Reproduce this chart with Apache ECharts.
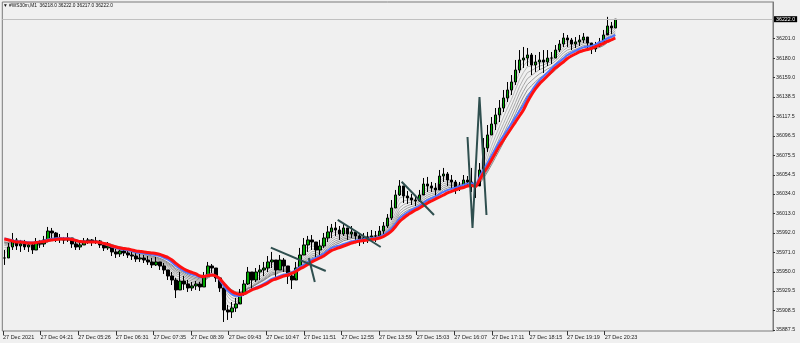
<!DOCTYPE html>
<html><head><meta charset="utf-8">
<script src="https://cdn.jsdelivr.net/npm/echarts@6/dist/echarts.min.js"></script>
<style>html,body{margin:0;padding:0;background:#f0f0f0}#c{width:800px;height:343px}</style>
</head><body><div id="c"></div>
<script>
const symbolTitle = '\u25BC #WS30m,M1  36218.0 36222.0 36217.0 36222.0';
const timeLabels = ['27 Dec 2021','27 Dec 04:21','27 Dec 05:26','27 Dec 06:31','27 Dec 07:35','27 Dec 08:39','27 Dec 09:43','27 Dec 10:47','27 Dec 11:51','27 Dec 12:55','27 Dec 13:59','27 Dec 15:03','27 Dec 16:07','27 Dec 17:11','27 Dec 18:15','27 Dec 19:19','27 Dec 20:23'];
const priceLabels = [36201.0,36180.0,36159.0,36138.5,36117.5,36096.5,36075.5,36054.5,36034.0,36013.0,35992.0,35971.0,35950.0,35929.5,35908.5,35887.5];
const lastPrice = 36222.0;

const hi = [
35973.6,35981.1,35991.9,35986.5,35984.4,35984.4,35982.2,35981.1,35986.5,35984.4,
35988.7,35998.4,35997.3,35993.0,35990.8,35987.6,35991.9,35986.5,35984.4,35982.2,
35986.5,35986.5,35985.4,35987.6,35984.4,35981.1,35982.2,35976.8,35974.7,35975.8,
35974.7,35973.6,35971.5,35970.4,35969.3,35968.2,35967.1,35965.0,35966.1,35960.7,
35959.6,35952.1,35949.9,35943.5,35949.9,35945.6,35941.3,35939.2,35940.2,35939.2,
35949.9,35960.7,35958.5,35952.1,35941.3,35925.2,35914.4,35917.6,35921.9,35931.6,
35941.3,35955.3,35949.9,35954.2,35957.5,35960.7,35967.1,35971.5,35960.7,35968.2,
35965.0,35954.2,35949.9,35960.7,35975.8,35986.5,35988.7,35989.7,35981.1,35984.4,
35991.9,35999.4,36001.6,36003.7,35999.4,36001.6,35997.3,35999.4,35995.1,35990.8,
35991.9,35993.0,35995.1,35994.0,35999.4,36003.7,36012.3,36027.4,36038.2,36048.9,
36040.3,36037.1,36033.9,36032.8,36038.2,36051.1,36052.2,36046.8,36045.7,36059.7,
36061.9,36057.5,36054.3,36048.9,36046.8,36054.3,36053.2,36061.9,36048.9,36067.2,
36094.1,36108.1,36116.7,36126.4,36135.0,36145.8,36154.4,36161.9,36178.1,36188.8,
36192.1,36191.0,36185.6,36183.5,36186.7,36188.8,36188.8,36186.7,36194.2,36199.6,
36207.1,36205.0,36201.8,36202.8,36205.0,36207.1,36201.8,36196.4,36197.5,36201.8,
36210.4,36224.5,36219.0,36222.0];
const lo = [
35957.5,35965.0,35973.6,35973.6,35971.5,35973.6,35971.5,35969.3,35973.6,35975.8,
35976.8,35984.4,35986.5,35982.2,35981.1,35980.1,35982.2,35975.8,35973.6,35973.6,
35979.0,35980.1,35977.9,35980.1,35975.8,35972.5,35973.6,35967.1,35965.0,35966.1,
35967.1,35965.0,35962.8,35960.7,35960.7,35959.6,35957.5,35954.2,35956.4,35952.1,
35947.8,35941.3,35935.9,35921.9,35930.6,35930.6,35928.4,35929.5,35930.6,35929.5,
35933.8,35945.6,35948.9,35939.2,35928.4,35896.1,35898.3,35900.4,35906.9,35917.6,
35924.1,35935.9,35930.6,35939.2,35941.3,35945.6,35949.9,35954.2,35943.5,35952.1,
35949.9,35937.0,35931.6,35943.5,35956.4,35968.2,35971.5,35973.6,35965.0,35968.2,
35975.8,35982.2,35986.5,35988.7,35984.4,35988.7,35984.4,35986.5,35982.2,35977.9,
35980.1,35981.1,35982.2,35982.2,35986.5,35989.7,35997.3,36005.9,36018.8,36031.7,
36024.2,36023.1,36022.0,36021.0,36025.3,36033.9,36036.0,36036.0,36031.7,36044.6,
36046.8,36042.5,36040.3,36033.9,36037.1,36043.6,36042.5,36036.0,36029.6,36046.8,
36065.1,36079.1,36097.4,36102.7,36111.3,36122.1,36132.9,36140.4,36151.2,36164.1,
36169.5,36171.6,36161.9,36165.2,36167.3,36164.1,36171.6,36173.8,36180.2,36186.7,
36192.1,36192.1,36188.8,36191.0,36193.1,36196.4,36191.0,36184.5,36186.7,36192.1,
36197.5,36207.1,36206.1,36212.5];
const cl = [
35965.0,35976.8,35984.4,35977.9,35980.1,35976.8,35979.0,35973.6,35982.2,35980.1,
35984.4,35994.0,35991.9,35986.5,35985.4,35984.4,35986.5,35980.1,35976.8,35979.0,
35983.3,35984.4,35982.2,35983.3,35979.0,35975.8,35977.9,35971.5,35969.3,35972.5,
35970.4,35968.2,35967.1,35963.9,35965.0,35962.8,35960.7,35957.5,35960.7,35956.4,
35952.1,35945.6,35941.3,35930.6,35940.2,35937.0,35932.7,35934.9,35937.0,35933.8,
35945.6,35956.4,35954.2,35943.5,35932.7,35909.0,35906.9,35911.2,35915.5,35927.3,
35937.0,35949.9,35941.3,35949.9,35952.1,35954.2,35960.7,35962.8,35952.1,35962.8,
35956.4,35945.6,35941.3,35954.2,35968.2,35979.0,35984.4,35982.2,35973.6,35977.9,
35986.5,35993.0,35997.3,35995.1,35990.8,35997.3,35990.8,35993.0,35988.7,35984.4,
35986.5,35987.6,35988.7,35988.7,35994.0,35999.4,36008.0,36018.8,36032.8,36042.5,
36031.7,36029.6,36027.4,36026.3,36032.8,36044.6,36042.5,36040.3,36038.2,36053.2,
36055.4,36048.9,36046.8,36040.3,36042.5,36048.9,36046.8,36042.5,36042.5,36059.7,
36083.4,36097.4,36109.2,36118.9,36126.4,36137.2,36145.8,36154.4,36167.3,36178.1,
36180.2,36183.5,36172.7,36175.9,36178.1,36175.9,36180.2,36180.2,36188.8,36195.3,
36201.8,36199.6,36195.3,36197.5,36199.6,36202.8,36196.4,36189.9,36193.1,36197.5,
36205.0,36214.7,36212.5,36222.0];
const redMA = [
35985.4,35984.4,35983.3,35982.2,35982.2,35981.7,35981.1,35981.1,35981.7,35982.2,
35982.7,35983.8,35984.4,35984.9,35985.4,35985.4,35985.4,35984.9,35983.8,35982.7,
35982.2,35982.2,35982.2,35982.2,35981.7,35980.6,35979.5,35977.9,35976.8,35975.8,
35975.2,35974.7,35973.6,35972.5,35972.0,35971.5,35970.9,35970.4,35969.8,35968.8,
35967.1,35965.5,35962.8,35959.1,35955.9,35953.2,35951.0,35949.4,35947.8,35945.6,
35945.1,35946.2,35946.7,35945.6,35942.4,35937.6,35932.7,35929.0,35926.8,35925.7,
35926.3,35928.4,35930.6,35932.2,35933.8,35935.9,35938.1,35940.8,35942.4,35944.0,
35945.6,35946.7,35948.3,35950.5,35953.2,35955.3,35958.0,35960.7,35962.8,35965.0,
35967.1,35970.4,35973.1,35974.7,35976.3,35977.9,35979.5,35981.1,35982.2,35983.3,
35983.8,35984.4,35984.9,35985.4,35986.5,35988.1,35990.8,35994.0,35998.9,36004.3,
36008.0,36011.3,36014.0,36016.6,36018.8,36021.5,36024.2,36026.3,36028.5,36030.6,
36032.8,36035.0,36036.6,36038.2,36039.8,36040.9,36042.5,36043.0,36041.9,36048.9,
36056.5,36062.9,36070.5,36078.0,36085.5,36092.0,36098.4,36104.9,36111.3,36117.8,
36124.3,36132.9,36140.4,36146.9,36152.3,36156.6,36160.9,36165.2,36169.5,36172.7,
36175.9,36179.7,36182.4,36184.5,36186.7,36188.3,36189.4,36190.5,36192.1,36194.2,
36195.8,36198.0,36199.6,36201.8];
const blueMA = [
35985.9,35984.9,35984.0,35982.9,35982.9,35982.4,35981.8,35981.6,35982.3,35982.9,
35983.6,35985.0,35985.8,35986.1,35986.4,35986.2,35986.2,35985.4,35984.0,35982.9,
35982.5,35982.5,35982.4,35982.4,35981.6,35980.2,35978.8,35976.9,35975.6,35974.6,
35974.0,35973.4,35972.2,35971.0,35970.5,35970.0,35969.3,35968.7,35968.2,35967.1,
35965.2,35963.2,35960.2,35956.3,35953.4,35950.9,35948.8,35947.4,35946.0,35944.3,
35944.8,35947.0,35947.3,35945.3,35941.0,35934.8,35929.6,35926.0,35924.3,35924.2,
35926.0,35929.0,35931.4,35933.3,35935.2,35937.4,35939.8,35942.6,35944.0,35945.7,
35947.2,35948.0,35949.4,35951.9,35955.1,35957.6,35960.5,35963.2,35965.0,35967.2,
35969.6,35973.1,35975.9,35977.3,35978.6,35980.2,35981.5,35982.9,35983.8,35984.6,
35985.1,35985.6,35986.1,35986.6,35987.9,35989.8,35993.0,35996.8,36002.0,36007.6,
36011.1,36014.2,36016.7,36019.2,36021.5,36024.6,36027.4,36029.3,36031.3,36033.8,
36036.1,36038.0,36039.4,36040.7,36042.2,36043.5,36045.0,36045.3,36044.6,36052.0,
36060.5,36067.2,36075.0,36082.5,36090.0,36096.5,36103.0,36109.6,36116.3,36123.0,
36129.4,36137.6,36144.5,36150.7,36156.0,36160.3,36164.5,36168.6,36172.9,36176.3,
36179.7,36183.3,36185.8,36187.8,36190.0,36191.7,36192.6,36193.2,36194.7,36196.9,
36198.7,36201.4,36203.0,36205.2];
// drawn objects: polylines in [bar-sample index, price]
const trendLines = [
  [[66.75,35976.1],[80.5,35951.0]],
  [[76.25,35965.0],[77.75,35939.2]],
  [[83.5,36005.9],[94.25,35976.8]],
  [[99.5,36047.1],[107.6,36011.2]],
  [[116,36095.2],[117.25,35997.3],[119,36138.3],[120.75,36011.3]]
];
// EMA fan periods (in samples) computed from closes
const fanPeriods = [1.5,2.5,3.5,5,6.5,8,9.5,11,12.5];
const fanColors = ['#d2d2d2','#cacaca','#c2c2c2','#bababa','#b0b0b0','#a6a6a6','#9c9c9c','#929292','#888888'];

const NCAT = 193;
const cats = Array.from({length: NCAT}, (_, i) => String(i));
const candles = cl.map((c, i) => [i === 0 ? cl[0] : cl[i - 1], c, lo[i], hi[i]]);
function ema(src, p, init) {
  const a = 2 / (p + 1); let v = init; return src.map(x => (v = v + a * (x - v), +v.toFixed(2)));
}
const TICK0 = -0.325, TICK_STEP = 9.4175;
const tickVals = timeLabels.map((_, k) => +(TICK0 + k * TICK_STEP).toFixed(4));
const FONT = '"Liberation Sans", Arial, sans-serif';

const series = [];
fanPeriods.forEach((p, k) => {
  series.push({type: 'line', xAxisIndex: 0, data: ema(cl, p, redMA[0]), showSymbol: false, silent: true,
    lineStyle: {width: 1, color: fanColors[k]}, z: 1, animation: false});
});
series.push({type: 'candlestick', xAxisIndex: 0, data: candles, barWidth: 3, z: 2, animation: false,
  itemStyle: {color: '#00a800', color0: '#000000', borderColor: '#000000', borderColor0: '#000000', borderWidth: 1},
  markLine: {silent: true, symbol: ['none', 'none'], animation: false,
    lineStyle: {color: '#c0c0c0', width: 1.2, type: 'solid'},
    label: {show: true, position: 'end', distance: 1, formatter: lastPrice.toFixed(1), color: '#fff', backgroundColor: '#000',
      padding: [1, 2, 0, 2], fontSize: 5.3, fontFamily: FONT},
    data: [{yAxis: lastPrice}]}});
series.push({type: 'line', xAxisIndex: 0, data: blueMA, showSymbol: false, silent: true, smooth: 0.3,
  lineStyle: {width: 2, color: '#4f74ff'}, z: 3, animation: false});
series.push({type: 'line', xAxisIndex: 0, data: redMA, showSymbol: false, silent: true, smooth: 0.3,
  lineStyle: {width: 3, color: '#ff1010'}, z: 4, animation: false});
trendLines.forEach(seg => {
  series.push({type: 'line', xAxisIndex: 1, data: seg, showSymbol: false, silent: true,
    lineStyle: {width: 2, color: '#2f4f4f'}, z: 5, animation: false});
});

const chart = echarts.init(document.getElementById('c'), null, {renderer: 'canvas'});
chart.setOption({
  backgroundColor: '#f0f0f0',
  animation: false,
  grid: {left: 1, right: 27, top: 2, bottom: 12, show: true, borderColor: '#7a7a7a', borderWidth: 1, backgroundColor: '#f0f0f0'},
  xAxis: [
    {type: 'category', data: cats, boundaryGap: true, axisLine: {show: false}, axisTick: {show: false}, axisLabel: {show: false}, splitLine: {show: false}},
    {type: 'value', min: -0.5, max: NCAT - 0.5, position: 'bottom', axisLine: {show: false}, splitLine: {show: false},
      axisTick: {show: true, customValues: tickVals, length: 4, lineStyle: {color: '#333', width: 1}},
      axisLabel: {show: true, customValues: tickVals, align: 'left', margin: 3, fontSize: 5.5, color: '#222', fontFamily: FONT,
        formatter: v => timeLabels[Math.round((v - TICK0) / TICK_STEP)] || ''}}
  ],
  yAxis: {type: 'value', position: 'right', min: 35886.4, max: 36240.5, scale: true,
    splitLine: {show: false}, axisLine: {show: true, onZero: false, lineStyle: {color: '#7a7a7a', width: 1}},
    axisTick: {show: true, inside: false, customValues: priceLabels, length: 2, lineStyle: {color: '#333'}},
    axisLabel: {show: true, customValues: priceLabels, margin: 3, fontSize: 5.3, color: '#222', fontFamily: FONT,
      formatter: v => v.toFixed(1)}},
  graphic: [{type: 'text', left: 3, top: 3.5, z: 100, style: {text: symbolTitle, font: '4.8px ' + FONT, fill: '#111'}}],
  series
});
</script></body></html>
